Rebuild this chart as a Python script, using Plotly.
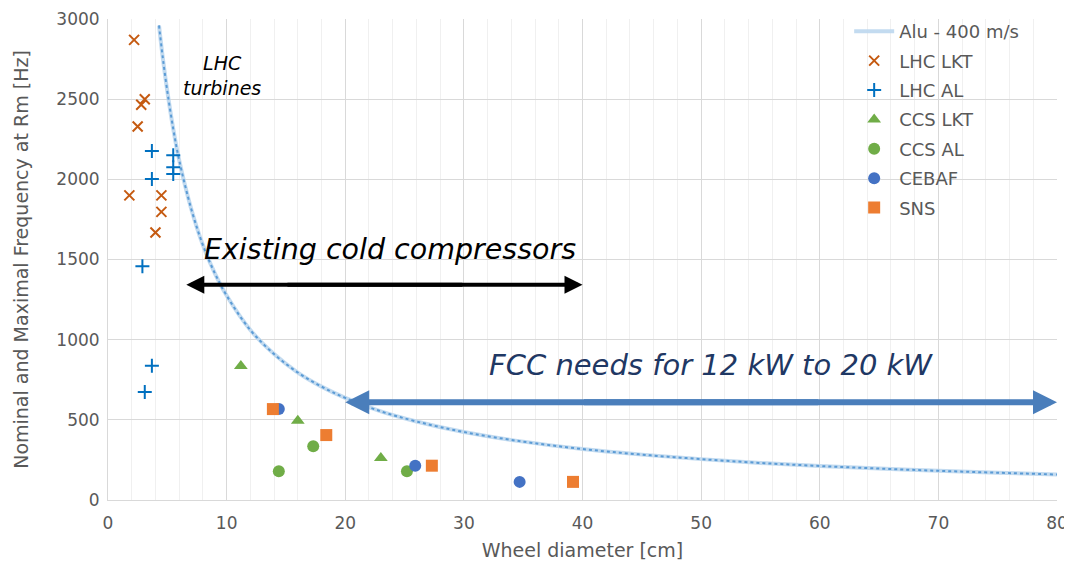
import plotly.graph_objects as go

# ---- data ----
alu_x = [4.3, 4.6, 5, 5.5, 6, 7, 8, 9, 10, 12, 14, 16, 18, 20, 23, 26, 30, 35, 40, 45, 50, 55, 60, 65, 70, 75, 80]
alu_y = [2960, 2770, 2550, 2315, 2120, 1820, 1590, 1415, 1275, 1060, 910, 795, 707, 637, 553, 490, 424, 364, 318, 283, 255, 231, 212, 196, 182, 170, 159]

lhc_lkt_x = [2.2, 3.1, 2.8, 2.5, 1.8, 4.5, 4.5, 4.0]
lhc_lkt_y = [2870, 2500, 2465, 2330, 1900, 1900, 1797, 1668]

lhc_al_x = [3.7, 5.5, 5.5, 5.5, 3.7, 2.9, 3.7, 3.1]
lhc_al_y = [2177, 2150, 2075, 2033, 2002, 1458, 838, 673]

ccs_lkt_x = [11.2, 16.0, 23.0]
ccs_lkt_y = [835, 495, 262]

ccs_al_x = [14.4, 17.3, 25.2]
ccs_al_y = [179, 335, 179]

cebaf_x = [14.4, 25.9, 34.7]
cebaf_y = [567, 214, 113]

sns_x = [13.9, 18.4, 27.3, 39.2]
sns_y = [567, 405, 214, 113]

x_ticks = [0, 10, 20, 30, 40, 50, 60, 70, 80]
y_ticks = [0, 500, 1000, 1500, 2000, 2500, 3000]

FONT = "DejaVu Sans"
GRAY = "#595959"

fig = go.Figure()

fig.add_trace(go.Scatter(x=alu_x, y=alu_y, mode="lines", name="Alu - 400 m/s",
                         line=dict(color="rgba(189,215,238,0.9)", width=4, shape="spline"),
                         legendgroup="a"))
fig.add_trace(go.Scatter(x=alu_x, y=alu_y, mode="lines", showlegend=False,
                         line=dict(color="#5b9bd5", width=2, dash="dot", shape="spline"),
                         hoverinfo="skip"))

fig.add_trace(go.Scatter(x=lhc_lkt_x, y=lhc_lkt_y, mode="markers", name="LHC LKT", legendgroup="b",
                         marker=dict(symbol="x-thin-open", size=10, color="#c55a11",
                                     line=dict(color="#c55a11", width=2))))
fig.add_trace(go.Scatter(x=lhc_al_x, y=lhc_al_y, mode="markers", name="LHC AL", legendgroup="c",
                         marker=dict(symbol="cross-thin-open", size=10, color="#0070c0",
                                     line=dict(color="#0070c0", width=2))))
fig.add_trace(go.Scatter(x=ccs_lkt_x, y=ccs_lkt_y, mode="markers", name="CCS LKT", legendgroup="d",
                         marker=dict(symbol="triangle-up", size=12, color="#70ad47")))
fig.add_trace(go.Scatter(x=ccs_al_x, y=ccs_al_y, mode="markers", name="CCS AL", legendgroup="e",
                         marker=dict(symbol="circle", size=12, color="#70ad47")))
fig.add_trace(go.Scatter(x=cebaf_x, y=cebaf_y, mode="markers", name="CEBAF", legendgroup="f",
                         marker=dict(symbol="circle", size=12, color="#4472c4")))
fig.add_trace(go.Scatter(x=sns_x, y=sns_y, mode="markers", name="SNS", legendgroup="g",
                         marker=dict(symbol="square", size=12, color="#ed7d31")))

annotations = [
    dict(x=9.6, y=2650, xref="x", yref="y", text="<i>LHC<br>turbines</i>", showarrow=False,
         font=dict(family=FONT, size=19, color="black"), align="center"),
    dict(x=23.8, y=1565, xref="x", yref="y", text="<i>Existing cold compressors</i>", showarrow=False,
         font=dict(family=FONT, size=28.5, color="black")),
    dict(x=50.8, y=845, xref="x", yref="y", text="<i>FCC needs for 12 kW to 20 kW</i>", showarrow=False,
         font=dict(family=FONT, size=29, color="#1f3864")),
    # black double arrow
    dict(x=6.6, y=1343, ax=30, ay=1343, xref="x", yref="y", axref="x", ayref="y", text="",
         showarrow=True, arrowhead=2, arrowsize=0.9, arrowwidth=4, arrowcolor="black"),
    dict(x=40.0, y=1343, ax=15, ay=1343, xref="x", yref="y", axref="x", ayref="y", text="",
         showarrow=True, arrowhead=2, arrowsize=0.9, arrowwidth=4, arrowcolor="black"),
    # blue double arrow
    dict(x=20.0, y=610, ax=60, ay=610, xref="x", yref="y", axref="x", ayref="y", text="",
         showarrow=True, arrowhead=2, arrowsize=0.8, arrowwidth=6, arrowcolor="#4a7ebb"),
    dict(x=80.0, y=610, ax=40, ay=610, xref="x", yref="y", axref="x", ayref="y", text="",
         showarrow=True, arrowhead=2, arrowsize=0.8, arrowwidth=6, arrowcolor="#4a7ebb"),
]

fig.update_layout(
    width=1064, height=561,
    margin=dict(l=100, r=15, t=11, b=69, autoexpand=False),
    paper_bgcolor="white", plot_bgcolor="white",
    font=dict(family=FONT, color=GRAY),
    showlegend=True,
    legend=dict(x=0.781, y=1.0125, xanchor="left", yanchor="top", bgcolor="rgba(0,0,0,0)",
                font=dict(family=FONT, size=18, color=GRAY), tracegroupgap=3,
                itemwidth=40),
    annotations=annotations,
    xaxis=dict(range=[0, 80], tickvals=x_ticks, ticks="", showline=True, linecolor="#d9d9d9",
               linewidth=1, showgrid=True, gridcolor="#d9d9d9", gridwidth=1, zeroline=False,
               automargin=False, ticklabelstandoff=8, ticklabeloverflow="allow",
               minor=dict(dtick=2, showgrid=True, gridcolor="#f0f0f0", gridwidth=1),
               tickfont=dict(size=17, color=GRAY), title=dict(text="Wheel diameter [cm]",
               font=dict(size=19, color=GRAY), standoff=11)),
    yaxis=dict(range=[0, 3000], tickvals=y_ticks, ticks="", showline=True, linecolor="#d9d9d9",
               linewidth=1, showgrid=True, gridcolor="#d9d9d9", gridwidth=1, zeroline=False,
               automargin=False, ticklabelstandoff=4, ticklabeloverflow="allow",
               tickfont=dict(size=17, color=GRAY),
               title=dict(text="Nominal and Maximal Frequency at Rm [Hz]",
                          font=dict(size=19, color=GRAY), standoff=22)),
)

fig.write_html("out.html")
